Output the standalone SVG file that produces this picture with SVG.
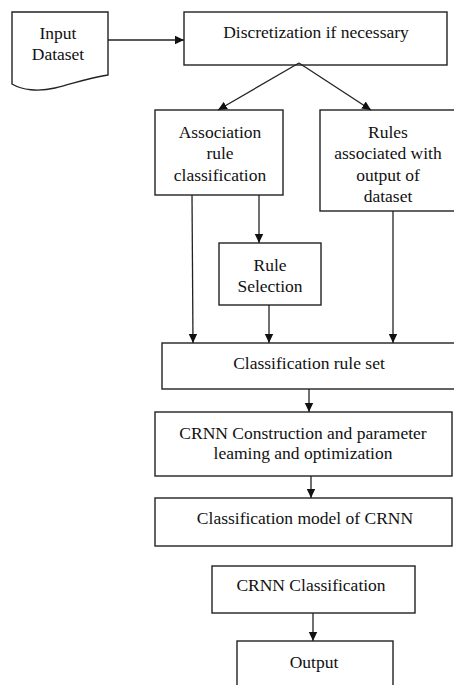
<svg xmlns="http://www.w3.org/2000/svg" width="454" height="685" viewBox="0 0 454 685">
<defs>
<marker id="ah" markerWidth="10" markerHeight="10" refX="9" refY="5" orient="auto" markerUnits="userSpaceOnUse">
<path d="M0,0.8 L9,5 L0,9.2 Z" fill="#111"/>
</marker>
<style>
.b{fill:#fff;stroke:#222;stroke-width:1.4}
.t{font-family:"Liberation Serif","Times New Roman",serif;font-size:17.5px;fill:#111;text-anchor:middle}
.c{fill:none;stroke:#222;stroke-width:1.3}
</style>
</defs>
<rect width="454" height="685" fill="#fff"/>
<g id="input">
<path class="b" d="M12,12 H108 V75 C88,78 72,84 55,88 C38,92 22,90 12,84 Z"/>
<text class="t" x="58" y="39">Input</text>
<text class="t" x="58" y="60">Dataset</text>
</g>
<g id="discretization">
<rect class="b" x="184" y="12" width="263" height="53"/>
<text class="t" x="316" y="38">Discretization if necessary</text>
</g>
<g id="association">
<rect class="b" x="155" y="110" width="128" height="85"/>
<text class="t" x="220" y="138">Association</text>
<text class="t" x="220" y="159">rule</text>
<text class="t" x="220" y="181">classification</text>
</g>
<g id="rules">
<rect class="b" x="320" y="110" width="140" height="101"/>
<text class="t" x="388" y="138">Rules</text>
<text class="t" x="388" y="159">associated with</text>
<text class="t" x="388" y="181">output of</text>
<text class="t" x="388" y="202">dataset</text>
</g>
<g id="selection">
<rect class="b" x="219" y="243" width="102" height="62"/>
<text class="t" x="270" y="271">Rule</text>
<text class="t" x="270" y="292">Selection</text>
</g>
<g id="ruleset">
<rect class="b" x="162" y="343" width="300" height="46"/>
<text class="t" x="309" y="369">Classification rule set</text>
</g>
<g id="construction">
<rect class="b" x="155" y="412" width="297" height="64"/>
<text class="t" x="303" y="439">CRNN Construction and parameter</text>
<text class="t" x="303" y="459">leaming and optimization</text>
</g>
<g id="model">
<rect class="b" x="155" y="498" width="297" height="48"/>
<text class="t" x="305" y="524">Classification model of CRNN</text>
</g>
<g id="crnnclass">
<rect class="b" x="212" y="566" width="203" height="47"/>
<text class="t" x="311" y="591">CRNN Classification</text>
</g>
<g id="output">
<rect class="b" x="237" y="641" width="156" height="60"/>
<text class="t" x="314" y="668">Output</text>
</g>
<g id="connectors">
<line class="c" x1="108" y1="40" x2="184" y2="40" marker-end="url(#ah)"/>
<line class="c" x1="299" y1="63" x2="218" y2="110" marker-end="url(#ah)"/>
<line class="c" x1="299" y1="63" x2="371" y2="110" marker-end="url(#ah)"/>
<line class="c" x1="192" y1="195" x2="193" y2="343" marker-end="url(#ah)"/>
<line class="c" x1="259" y1="195" x2="259" y2="243" marker-end="url(#ah)"/>
<line class="c" x1="269" y1="305" x2="269" y2="343" marker-end="url(#ah)"/>
<line class="c" x1="393" y1="211" x2="393" y2="343" marker-end="url(#ah)"/>
<line class="c" x1="309" y1="389" x2="309" y2="412" marker-end="url(#ah)"/>
<line class="c" x1="311" y1="476" x2="311" y2="498" marker-end="url(#ah)"/>
<line class="c" x1="313" y1="613" x2="313" y2="641" marker-end="url(#ah)"/>
</g>
</svg>
